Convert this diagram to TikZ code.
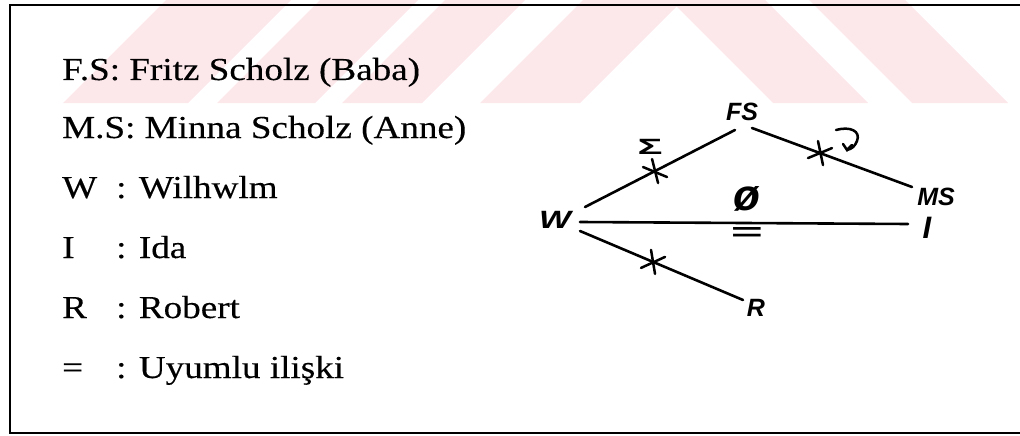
\documentclass[tikz,border=0pt]{standalone}
\usepackage{fontspec}
\setmainfont{Liberation Serif}[FakeStretch=1.16,FakeBold=0.3]
\newfontfamily\handfont{Liberation Sans}
\usetikzlibrary{calc}
\definecolor{wm}{RGB}{252,231,235}
\tikzset{
  legend/.style={anchor=base west, inner sep=0pt, font=\fontsize{32}{38}\selectfont},
  hand/.style={inner sep=0pt, font=\handfont\bfseries\itshape\fontsize{25}{30}\selectfont},
  edge/.style={line width=2.6pt, line cap=round},
  frameline/.style={line width=2.2pt},
  xmark/.style={line width=2.5pt, line cap=round},
}
\newcommand\lgdlab[1]{\makebox[54pt][l]{#1}}
\begin{document}
\begin{tikzpicture}[x=1pt,y=-1pt]
\useasboundingbox (0,0) rectangle (1020,436);
% faint watermark band
\begin{scope}
  \clip (0,0) rectangle (1020,103);
  \foreach \a/\b in {63/188,217/315,342/422,480/580}
    \fill[wm] (\a,103) -- (\b,103) -- (\b+103,0) -- (\a+103,0) -- cycle;
  \fill[wm] (670,0) -- (765,0) -- (868,103) -- (773,103) -- cycle;
  \fill[wm] (809,0) -- (905,0) -- (1008,103) -- (912,103) -- cycle;
\end{scope}
% frame
\draw[frameline] (1020,5) -- (10,5) -- (10,433) -- (1020,433);
% legend
\node[legend] (l1) at (62,80)  {F.S: Fritz Scholz (Baba)};
\node[legend] (l2) at (62,138) {M.S: Minna Scholz (Anne)};
\node[legend] (l3) at (62,198) {\lgdlab{W}: Wilhwlm};
\node[legend] (l4) at (62,258) {\lgdlab{I}: Ida};
\node[legend] (l5) at (62,318) {\lgdlab{R}: Robert};
\node[legend] (l6) at (62,378) {\lgdlab{=}: Uyumlu ilişki};
% diagram labels
\node[hand] (FS) at (742,112) {FS};
\node[hand] (MS) at (936,197) {MS};
\node[hand] (W) at (555,220) {\scalebox{1.35}[1]{W}};
\node[hand, font=\handfont\bfseries\itshape\fontsize{31}{34}\selectfont] (I) at (927,228) {I};
\node[hand] (R) at (756,308) {R};
\node[hand, font=\handfont\bfseries\fontsize{26}{30}\selectfont] (sigma) at (650,147) {\scalebox{1.6}[0.85]{Σ}};
\node[hand, font=\handfont\bfseries\itshape\fontsize{44}{48}\selectfont] (phi) at (747,199) {ø};
\node[hand] (eq) at (746,234) {\scalebox{2.2}[1]{=}};
% connectors
\draw[edge] ($(W)+(30,-13)$) -- coordinate[pos=0.467] (c1) ($(FS)+(-7,18)$);
\draw[edge] ($(FS)+(10,16)$) -- coordinate[pos=0.425] (c2) ($(MS)+(-24,-10)$);
\draw[edge] ($(W)+(25,2)$) -- ($(I)+(-19,-4)$);
\draw[edge] ($(W)+(25,11)$) -- coordinate[pos=0.448] (c3) ($(R)+(-13,-8)$);
% cross marks
\draw[xmark] ($(c1)+(-3,-12)$) -- ($(c1)+(3,12)$);
\draw[xmark] ($(c1)+(-12,-4)$) -- ($(c1)+(12,6)$);
\draw[xmark] ($(c2)+(-2,-12)$) -- ($(c2)+(3,12)$);
\draw[xmark] ($(c2)+(-12,5)$) -- ($(c2)+(12,-5)$);
\draw[xmark] ($(c3)+(-2,-12)$) -- ($(c3)+(2,12)$);
\draw[xmark] ($(c3)+(-12,6)$) -- ($(c3)+(12,-5)$);
% hooked sign beside the FS--MS cross
\draw[xmark] (836,130) .. controls (850,126) and (861,131) .. (857,141)
  .. controls (855,146) and (852,149) .. (847,150);
\draw[xmark] (843,144) -- (847,150) -- (852,145);
\end{tikzpicture}
\end{document}
